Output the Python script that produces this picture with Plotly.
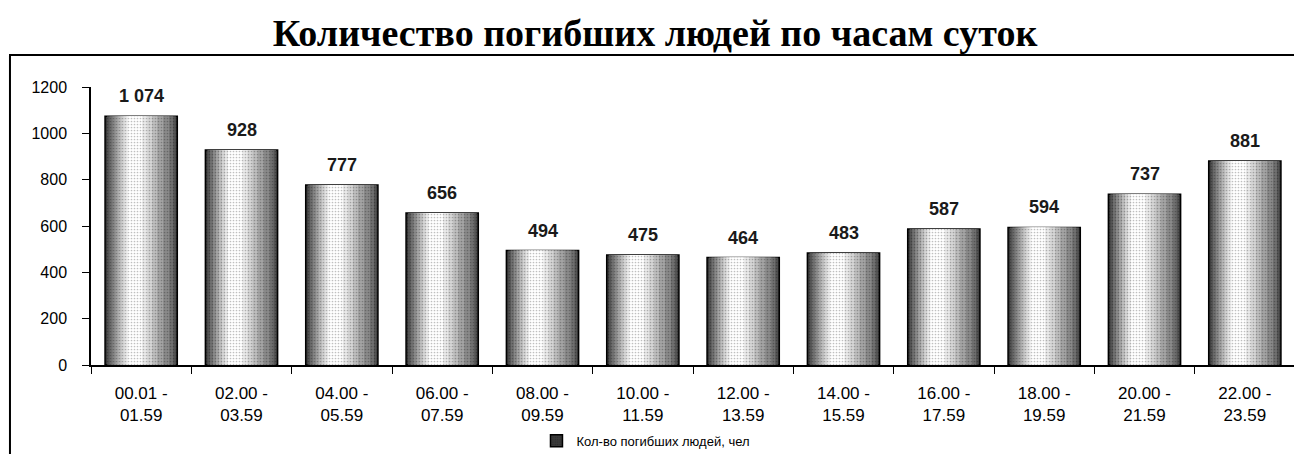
import plotly.graph_objects as go

# часы суток и число погибших
periods = ["00.01 -<br>01.59", "02.00 -<br>03.59", "04.00 -<br>05.59", "06.00 -<br>07.59",
           "08.00 -<br>09.59", "10.00 -<br>11.59", "12.00 -<br>13.59", "14.00 -<br>15.59",
           "16.00 -<br>17.59", "18.00 -<br>19.59", "20.00 -<br>21.59", "22.00 -<br>23.59"]
deaths = [1074, 928, 777, 656, 494, 475, 464, 483, 587, 594, 737, 881]
y_ticks = [0, 200, 400, 600, 800, 1000, 1200]

# cylinder shading: (left edge, right edge, colour) relative to the category centre
shade = [(-0.36, 0.36, "#3a3a3a"), (-0.34, 0.345, "#555555"), (-0.315, 0.32, "#707070"),
         (-0.285, 0.28, "#8a8a8a"), (-0.255, 0.22, "#a4a4a4"), (-0.225, 0.16, "#bebebe"),
         (-0.195, 0.11, "#d6d6d6"), (-0.165, 0.06, "#eaeaea"), (-0.135, 0.01, "#ffffff")]

fig = go.Figure()
for i, (x0, x1, col) in enumerate(shade):
    fig.add_trace(go.Bar(
        x=periods, y=deaths,
        offset=x0, width=x1 - x0,
        marker=dict(color=col,
                    line=dict(color="black", width=1.5 if i == 0 else 0),
                    pattern=dict(shape=".", size=3, solidity=0.25,
                                 fgcolor="black", fgopacity=0.25, bgcolor=col)),
        name="Кол-во погибших людей, чел",
        showlegend=(i == 0),
        hoverinfo="skip" if i else None,
    ))

for p, v in zip(periods, deaths):
    fig.add_annotation(x=p, y=v, text="<b>" + f"{v:,}".replace(",", " ") + "</b>",
                       showarrow=False, yanchor="bottom", yshift=8,
                       font=dict(family="Liberation Sans, Arial", size=18, color="#1a1a1a"))

# outer frame of the chart area
fig.add_shape(type="rect", xref="paper", yref="paper",
              x0=-0.0673, x1=1.0017, y0=-0.5, y1=1.115,
              line=dict(color="black", width=2), layer="below")

# page body adds an 8px margin, so the figure is 8px smaller
fig.update_layout(
    width=1294, height=446,
    margin=dict(l=83, r=7, t=79, b=89, autoexpand=False),
    paper_bgcolor="white", plot_bgcolor="white",
    barmode="overlay",
    title=dict(text="<b>Количество погибших людей по часам суток</b>",
               x=0.5, xanchor="center", y=0.944, yanchor="middle",
               font=dict(family="Liberation Serif, Times New Roman", size=38, color="black")),
    font=dict(family="Liberation Sans, Arial", color="black"),
    legend=dict(orientation="h", x=0.37, xanchor="left", y=-0.273, yanchor="middle",
                font=dict(size=13), bgcolor="rgba(0,0,0,0)", itemwidth=30),
    xaxis=dict(showline=True, linecolor="black", linewidth=1.5,
               ticks="outside", ticklen=7, tickcolor="black", tickson="boundaries",
               ticklabelstandoff=12, tickfont=dict(size=17), showgrid=False,
               range=[-0.5, 11.5]),
    yaxis=dict(range=[0, 1200], tickvals=y_ticks, showline=True, linecolor="black",
               linewidth=1.5, ticks="outside", ticklen=7, tickcolor="black",
               ticklabelstandoff=12, tickfont=dict(size=16), showgrid=False, zeroline=False),
)

fig.write_html("out.html")
